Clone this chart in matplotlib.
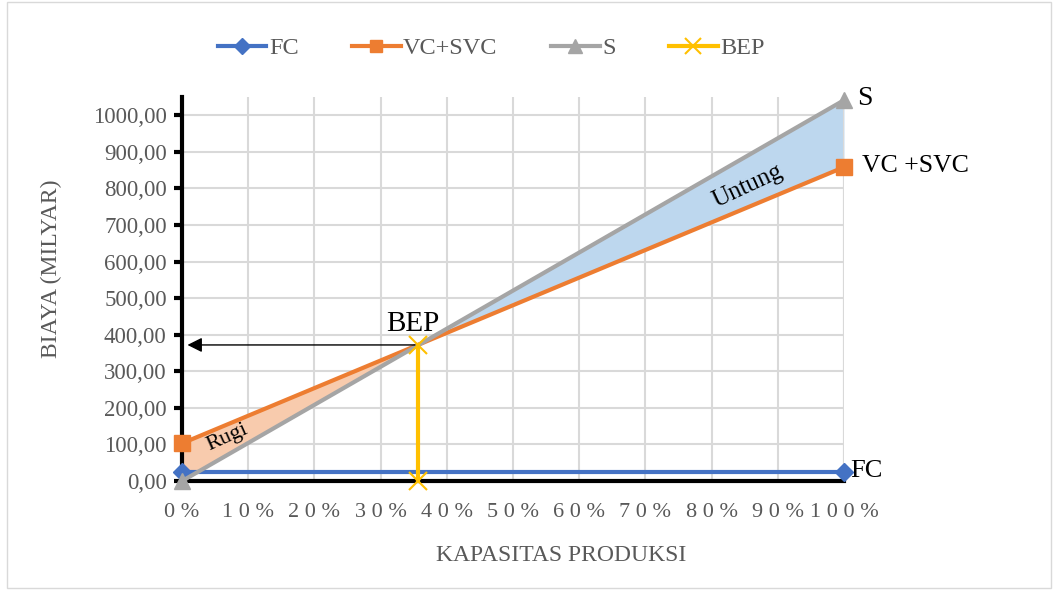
import matplotlib.pyplot as plt
import numpy as np
from matplotlib.patches import Rectangle

plt.rcParams['font.family'] = ['Liberation Serif', 'DejaVu Serif']

# data (biaya dalam milyar)
kapasitas = [0.0, 1.0]
fc = [25.0, 25.0]
vc_svc = [103.0, 858.0]
s = [0.0, 1041.0]
bep_x = 0.356
bep_y = 372.0

grey = '#595959'

fig = plt.figure(figsize=(10.54, 5.9), dpi=100)
fig.patches.append(Rectangle((0.007, 0.003), 0.99, 0.994, transform=fig.transFigure,
                             fill=False, edgecolor='#d9d9d9', linewidth=1))
ax = fig.add_axes([0.1727, 0.1847, 0.628, 0.651])

# daerah rugi (0 -> BEP) dan untung (BEP -> 100%)
x_rugi = np.array([0.0, bep_x])
x_untung = np.array([bep_x, 1.0])
ax.fill_between(x_rugi, np.interp(x_rugi, kapasitas, vc_svc), np.interp(x_rugi, kapasitas, s),
                color='#f8cbad', zorder=2, lw=0)
ax.fill_between(x_untung, np.interp(x_untung, kapasitas, vc_svc), np.interp(x_untung, kapasitas, s),
                color='#bdd7ee', zorder=2, lw=0)
ax.axvline(1.0, color='#d9d9d9', lw=1.5, zorder=2.5)

ax.plot(kapasitas, fc, color='#4472C4', lw=3, marker='D', ms=9, label='FC', zorder=4, clip_on=False)
ax.plot(kapasitas, vc_svc, color='#ED7D31', lw=3, marker='s', ms=11, label='VC+SVC', zorder=4, clip_on=False)
ax.plot(kapasitas, s, color='#A5A5A5', lw=3, marker='^', ms=12, label='S', zorder=5, clip_on=False)
ax.plot([bep_x, bep_x], [0, bep_y], color='#FFC000', lw=3, marker='x', ms=13, mew=1.5,
        label='BEP', zorder=6, clip_on=False)

ax.annotate('', xy=(0.004, bep_y), xytext=(bep_x, bep_y),
            arrowprops=dict(arrowstyle='-|>', color='black', lw=1, mutation_scale=22), zorder=7)

ax.set_xlim(0, 1)
ax.set_ylim(0, 1050)
ax.set_yticks(np.arange(0, 1001, 100))
ax.set_yticklabels(['%d,00' % v for v in range(0, 1001, 100)])
ax.set_xticks(np.arange(0, 1.01, 0.1))
ax.set_xticklabels([' '.join(str(p)) + ' %' for p in range(0, 101, 10)])

ax.grid(True, color='#d9d9d9', lw=1.5, zorder=0)
ax.set_axisbelow(True)
for side in ['top', 'right']:
    ax.spines[side].set_visible(False)
ax.spines['left'].set_linewidth(3)
ax.spines['bottom'].set_linewidth(3)
ax.tick_params(axis='y', length=6, width=3, colors='black', labelcolor=grey, labelsize=16.5, pad=5)
ax.tick_params(axis='x', length=0, labelcolor=grey, labelsize=16, pad=16)

ax.set_ylabel('BIAYA (MILYAR)', color=grey, fontsize=17)
ax.set_xlabel('KAPASITAS PRODUKSI', color=grey, fontsize=17)
ax.yaxis.set_label_coords(-0.181, 0.552)
ax.xaxis.set_label_coords(0.573, -0.167)

# label
ax.text(0.308, 410, 'BEP', fontsize=21, color='black')
ax.text(1.02, 1045, 'S', fontsize=20, color='black', va='center')
ax.text(1.028, 862, 'VC +SVC', fontsize=18.5, color='black', va='center')
ax.text(1.01, 28, 'FC', fontsize=19, color='black', va='center')
ax.text(0.855, 805, 'Untung', fontsize=18, color='black', rotation=25, ha='center', va='center')
ax.text(0.068, 118, 'Rugi', fontsize=16, color='black', rotation=24, ha='center', va='center')

ax.legend(loc='center', bbox_to_anchor=(0.466, 0.918), bbox_transform=fig.transFigure,
          ncol=4, frameon=False, fontsize=17.5, labelcolor=grey, handlelength=2,
          columnspacing=2.2, handletextpad=0.1, markerscale=0.85)

plt.savefig('out.png', dpi=100)
